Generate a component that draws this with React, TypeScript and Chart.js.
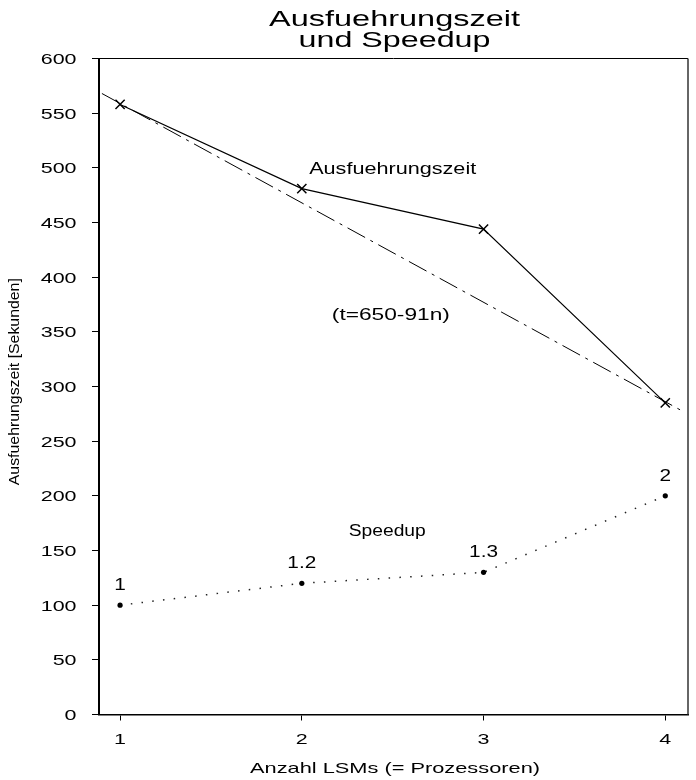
import React, { useEffect, useRef } from 'react';
import { Chart, registerables } from 'chart.js';

Chart.register(...registerables);

const FONT = '"Liberation Sans", Arial, Helvetica, sans-serif';

// ---- data ----
const processors = [1, 2, 3, 4];
const execTime = [558, 481, 444, 285];
const speedupPlot = [100, 120, 130, 200];
const speedupLabels = ['1', '1.2', '1.3', '2'];
const fitN = [0.9, 4.1];
const fitT = [568, 277];
const xTicks = [1, 2, 3, 4];
const yTicks = [0, 50, 100, 150, 200, 250, 300, 350, 400, 450, 500, 550, 600];
const titleLines = ['Ausfuehrungszeit', 'und Speedup'];
const xTitle = 'Anzahl LSMs (= Prozessoren)';
const yTitle = 'Ausfuehrungszeit [Sekunden]';
const annotTexts = ['Ausfuehrungszeit', '(t=650-91n)', 'Speedup'];
const annotN = [2.5, 2.49, 2.47];
const annotT = [494, 361, 163];

// ---- styles ----
const annotStyle = [
  { size: 16, width: 167 },
  { size: 16, width: 118 },
  { size: 16, width: 77 },
];

function drawText(
  ctx: CanvasRenderingContext2D,
  text: string,
  x: number,
  y: number,
  size: number,
  o: { width?: number; sx?: number; align?: CanvasTextAlign; rotate?: number }
) {
  ctx.save();
  ctx.font = `${size}px ${FONT}`;
  ctx.fillStyle = '#000';
  ctx.textBaseline = 'alphabetic';
  ctx.textAlign = o.align || 'center';
  const w = ctx.measureText(text).width;
  const sx = o.width ? o.width / w : o.sx || 1;
  ctx.translate(x, y);
  if (o.rotate) ctx.rotate(o.rotate);
  ctx.scale(sx, 1);
  ctx.fillText(text, 0, 0);
  ctx.restore();
}

const textPlugin = {
  id: 'customTexts',
  afterDraw(chart: any) {
    const ctx: CanvasRenderingContext2D = chart.ctx;
    const { left, right, top, bottom } = chart.chartArea;
    const xs = chart.scales.x;
    const ys = chart.scales.y;

    // top & right frame
    ctx.save();
    ctx.strokeStyle = '#000';
    ctx.lineWidth = 1;
    ctx.beginPath();
    ctx.moveTo(left, top);
    ctx.lineTo(right, top);
    ctx.stroke();
    ctx.strokeStyle = '#333';
    ctx.lineWidth = 1.5;
    ctx.beginPath();
    ctx.moveTo(right, top);
    ctx.lineTo(right, bottom);
    ctx.stroke();
    ctx.restore();

    // y tick labels
    ys.ticks.forEach((t: any) => {
      const py = ys.getPixelForValue(t.value);
      drawText(ctx, String(t.value), 76.5, py + 5.5, 14.5, { sx: 1.48, align: 'right' });
    });
    // x tick labels
    xs.ticks.forEach((t: any) => {
      const px = xs.getPixelForValue(t.value);
      drawText(ctx, String(t.value), px, 743.5, 14.5, { sx: 1.48 });
    });

    // title
    drawText(ctx, titleLines[0], 394.5, 26, 22.5, { width: 251 });
    drawText(ctx, titleLines[1], 394.5, 46.5, 22.5, { width: 192 });

    // axis titles
    drawText(ctx, xTitle, 395, 773, 15, { width: 290 });
    drawText(ctx, yTitle, 19, 381.7, 15, { width: 207, rotate: -Math.PI / 2 });

    // annotations
    annotTexts.forEach((txt, i) => {
      const px = xs.getPixelForValue(annotN[i]);
      const py = ys.getPixelForValue(annotT[i]);
      drawText(ctx, txt, px, py, annotStyle[i].size, { width: annotStyle[i].width });
    });

    // speedup point labels
    speedupLabels.forEach((lab, i) => {
      const px = xs.getPixelForValue(processors[i]);
      const py = ys.getPixelForValue(speedupPlot[i]);
      drawText(ctx, lab, px, py - 15, 16, { sx: 1.3 });
    });
  },
};

export default function App() {
  const ref = useRef<HTMLCanvasElement>(null);

  useEffect(() => {
    const canvas = ref.current!;
    const chart = new Chart(canvas, {
      type: 'line',
      data: {
        datasets: [
          {
            label: 'Ausfuehrungszeit',
            data: processors.map((n, i) => ({ x: n, y: execTime[i] })),
            borderColor: '#000',
            borderWidth: 1.2,
            pointStyle: 'crossRot',
            pointRadius: 6.5,
            pointBorderWidth: 1.5,
            pointBorderColor: '#000',
            pointBackgroundColor: '#000',
            fill: false,
            tension: 0,
          },
          {
            label: 'fit',
            data: fitN.map((n, i) => ({ x: n, y: fitT[i] })),
            borderColor: '#000',
            borderWidth: 1,
            borderDash: [20, 6, 3, 6],
            pointRadius: 0,
            fill: false,
          },
          {
            label: 'Speedup',
            data: processors.map((n, i) => ({ x: n, y: speedupPlot[i] })),
            borderColor: '#222',
            borderWidth: 1.5,
            borderDash: [1.5, 9.3],
            pointStyle: 'circle',
            pointRadius: 2.6,
            pointBorderWidth: 0,
            pointBackgroundColor: '#000',
            fill: false,
          },
        ],
      } as any,
      options: {
        animation: false,
        responsive: false,
        devicePixelRatio: 1,
        layout: { padding: { left: 92, right: 5.5, top: 58.5, bottom: 59.5 } },
        plugins: {
          legend: { display: false },
          tooltip: { enabled: false },
          title: { display: false },
        },
        scales: {
          x: {
            type: 'linear',
            min: 0.884,
            max: 4.125,
            afterBuildTicks: (s: any) => {
              s.ticks = xTicks.map((v) => ({ value: v }));
            },
            ticks: { display: false },
            grid: {
              display: true,
              drawOnChartArea: false,
              drawTicks: true,
              tickLength: 6,
              tickColor: '#000',
              tickWidth: 1,
            },
            border: { display: true, color: '#000', width: 1.5 },
          },
          y: {
            type: 'linear',
            min: 0,
            max: 600,
            afterBuildTicks: (s: any) => {
              s.ticks = yTicks.map((v) => ({ value: v }));
            },
            ticks: { display: false },
            grid: {
              display: true,
              drawOnChartArea: false,
              drawTicks: true,
              tickLength: 7,
              tickColor: '#000',
              tickWidth: 1,
            },
            border: { display: true, color: '#000', width: 2 },
          },
        },
      } as any,
      plugins: [textPlugin],
    });
    return () => chart.destroy();
  }, []);

  return (
    <div style={{ position: 'absolute', left: 0, top: 0, width: 696, height: 780, background: '#fff' }}>
      <canvas ref={ref} width={696} height={780} style={{ display: 'block' }} />
    </div>
  );
}
